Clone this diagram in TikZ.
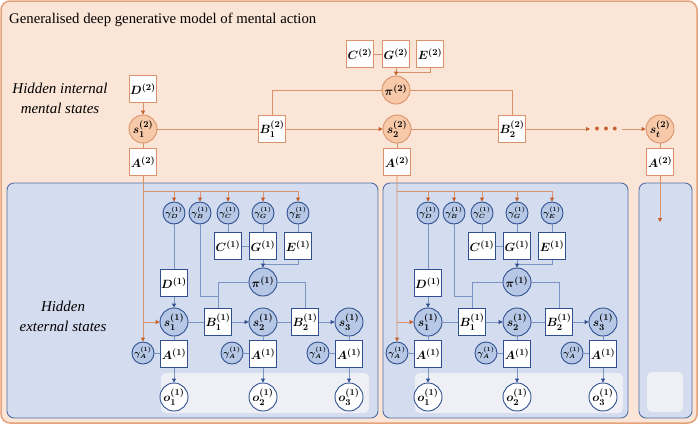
\documentclass[tikz,border=0pt]{standalone}
\usepackage{amsmath, amssymb}
\usepackage{fontspec}
\setmainfont{Liberation Serif}
\usetikzlibrary{positioning, arrows.meta, backgrounds}

\definecolor{peach}{HTML}{FBE5D6}
\definecolor{peachrim}{HTML}{E5A27A}
\definecolor{rust}{HTML}{C5602A}
\definecolor{rustline}{HTML}{D9926A}
\definecolor{rustfill}{HTML}{F7C9A9}
\definecolor{sky}{HTML}{D4DCEF}
\definecolor{skyrim}{HTML}{4F6FA3}
\definecolor{navy}{HTML}{2F4F8F}
\definecolor{navyline}{HTML}{7A94C4}
\definecolor{bluefill}{HTML}{B6C8E6}
\definecolor{mist}{HTML}{EEF0F6}

\begin{document}
\begin{tikzpicture}[
    x=1bp, y=-1bp,
    every node/.style={inner sep=0pt},
    mathfont/.style={font=\fontsize{12.5}{13}\selectfont\boldmath},
    hibox/.style={draw=rustline, fill=white, line width=0.9bp, minimum size=27bp, mathfont},
    hicirc/.style={circle, draw=rustline, fill=rustfill, line width=0.9bp, minimum size=28bp, mathfont},
    lobox/.style={draw=navy, fill=white, line width=0.9bp, minimum size=27bp, mathfont},
    locirc/.style={circle, draw=navy, fill=bluefill, line width=0.9bp, minimum size=28bp, mathfont},
    gam/.style={locirc, minimum size=22bp, font=\fontsize{9}{10}\selectfont\boldmath},
    obs/.style={locirc, fill=white},
    hiline/.style={draw=rustline, line width=0.9bp},
    hiarr/.style={hiline, -{Triangle[length=4bp, width=4bp, color=rust]}},
    loline/.style={draw=navyline, line width=0.9bp},
    loarr/.style={loline, -{Triangle[length=4bp, width=4bp, color=navy]}},
    lbl/.style={align=center, font=\fontsize{15}{20}\selectfont\itshape},
    panel/.style={draw=skyrim, fill=sky, line width=0.9bp, rounded corners=7bp},
    tray/.style={fill=mist, rounded corners=5bp}
]
    \useasboundingbox (0,0) rectangle (700,426);
    \draw[draw=peachrim, fill=peach, line width=1.5bp, rounded corners=9bp] (1,1) rectangle (697,423);
    \node[anchor=base west, font=\fontsize{14.8}{16}\selectfont] (title) at (9,23) {Generalised deep generative model of mental action};

    % Panels for the external states
    \draw[panel] (7,183) rectangle (378,418);
    \draw[panel] (383,183) rectangle (628,418);
    \draw[panel] (639,183) rectangle (692,418);
    \fill[tray] (647,372) rectangle (683,412);

    % Hidden internal mental states
    \node[lbl] (inner) at (60,98) {Hidden internal\\mental states};
    \node[hibox] (C2) at (360,54) {$C^{(2)}$};
    \node[hibox] (G2) at (396,54) {$G^{(2)}$};
    \node[hibox] (E2) at (430,54) {$E^{(2)}$};
    \node[hicirc] (pi2) at (396,90) {$\pi^{(2)}$};
    \node[hibox] (D2) at (143,89) {$D^{(2)}$};
    \node[hicirc] (s12) at (143,129) {$s_1^{(2)}$};
    \node[hibox] (B12) at (272,129) {$B_1^{(2)}$};
    \node[hicirc] (s22) at (397,129) {$s_2^{(2)}$};
    \node[hibox] (B22) at (512,129) {$B_2^{(2)}$};
    \node[text=rust, font=\fontsize{10}{10}\selectfont] (dots) at (606,129) {$\bullet\,\bullet\,\bullet$};
    \node[hicirc] (st2) at (660,129) {$s_t^{(2)}$};
    \node[hibox] (A12) at (143,162) {$A^{(2)}$};
    \node[hibox] (A22) at (397,162) {$A^{(2)}$};
    \node[hibox] (At2) at (660,162) {$A^{(2)}$};
    \coordinate (gj2) at (396,72);
    \coordinate (pre) at (590,129);
    \coordinate (post) at (622,129);
    \coordinate (tdrop) at (660,222);

    \draw[hiline] (C2) -- (G2);
    \draw[hiline] (E2) |- (gj2);
    \draw[hiarr] (G2) -- (pi2);
    \draw[hiline] (pi2) -| (B12);
    \draw[hiline] (pi2) -| (B22);
    \draw[hiarr] (D2) -- (s12);
    \draw[hiline] (s12) -- (B12);
    \draw[hiarr] (B12) -- (s22);
    \draw[hiline] (s22) -- (B22);
    \draw[hiarr] (B22) -- (pre);
    \draw[hiarr] (post) -- (st2);
    \draw[hiline] (s12) -- (A12);
    \draw[hiline] (s22) -- (A22);
    \draw[hiline] (st2) -- (At2);
    \draw[hiarr] (At2) -- (tdrop);

    % Hidden external states
    \node[lbl] (outer) at (63,316) {Hidden\\external states};
    \foreach \p/\dx/\up in {a/0/A12, b/254/A22} {
    \begin{scope}[xshift=\dx bp]
        \fill[tray] (161,373) rectangle (369,413);
        \node[gam] (gD-\p) at (174,213) {$\gamma_D^{(1)}$};
        \node[gam] (gB-\p) at (200,213) {$\gamma_B^{(1)}$};
        \node[gam] (gC-\p) at (228,213) {$\gamma_C^{(1)}$};
        \node[gam] (gG-\p) at (263,213) {$\gamma_G^{(1)}$};
        \node[gam] (gE-\p) at (298,213) {$\gamma_E^{(1)}$};
        \node[lobox] (C-\p) at (228,246) {$C^{(1)}$};
        \node[lobox] (G-\p) at (263,246) {$G^{(1)}$};
        \node[lobox] (E-\p) at (298,246) {$E^{(1)}$};
        \node[lobox] (D-\p) at (174,283) {$D^{(1)}$};
        \node[locirc] (pi-\p) at (263,282) {$\pi^{(1)}$};
        \node[locirc] (s1-\p) at (174,322) {$s_1^{(1)}$};
        \node[lobox] (B1-\p) at (218,322) {$B_1^{(1)}$};
        \node[locirc] (s2-\p) at (263,322) {$s_2^{(1)}$};
        \node[lobox] (B2-\p) at (305,322) {$B_2^{(1)}$};
        \node[locirc] (s3-\p) at (349,322) {$s_3^{(1)}$};
        \node[gam] (gA1-\p) at (143,353) {$\gamma_A^{(1)}$};
        \node[gam] (gA2-\p) at (232,353) {$\gamma_A^{(1)}$};
        \node[gam] (gA3-\p) at (318,353) {$\gamma_A^{(1)}$};
        \node[lobox] (A1-\p) at (174,354) {$A^{(1)}$};
        \node[lobox] (A2-\p) at (263,354) {$A^{(1)}$};
        \node[lobox] (A3-\p) at (349,354) {$A^{(1)}$};
        \node[obs] (o1-\p) at (174,397) {$o_1^{(1)}$};
        \node[obs] (o2-\p) at (263,397) {$o_2^{(1)}$};
        \node[obs] (o3-\p) at (349,397) {$o_3^{(1)}$};
        \coordinate (top-\p) at (143,191);
        \coordinate (mid-\p) at (143,322);
        \coordinate (bj-\p) at (218,296);
        \coordinate (ej-\p) at (263,264);
    \end{scope}
        % descending messages from the level above
        \draw[hiarr] (\up) -- (gA1-\p);
        \draw[hiarr] (mid-\p) -- (s1-\p);
        \foreach \g in {gD, gB, gC, gG, gE}
            \draw[hiarr] (top-\p) -| (\g-\p);
        \draw[loline] (gD-\p) -- (D-\p);
        \draw[loarr] (D-\p) -- (s1-\p);
        \draw[loline] (gB-\p) |- (bj-\p);
        \draw[loline] (gC-\p) -- (C-\p);
        \draw[loline] (gG-\p) -- (G-\p);
        \draw[loline] (gE-\p) -- (E-\p);
        \draw[loline] (C-\p) -- (G-\p);
        \draw[loline] (E-\p) |- (ej-\p);
        \draw[loarr] (G-\p) -- (pi-\p);
        \draw[loline] (B1-\p) |- (pi-\p);
        \draw[loline] (pi-\p) -| (B2-\p);
        \draw[loline] (s1-\p) -- (B1-\p);
        \draw[loarr] (B1-\p) -- (s2-\p);
        \draw[loline] (s2-\p) -- (B2-\p);
        \draw[loarr] (B2-\p) -- (s3-\p);
        \foreach \k in {1,2,3} {
            \draw[loline] (s\k-\p) -- (A\k-\p);
            \draw[loline] (gA\k-\p) -- (A\k-\p);
            \draw[loarr] (A\k-\p) -- (o\k-\p);
        }
    }
\end{tikzpicture}
\end{document}
